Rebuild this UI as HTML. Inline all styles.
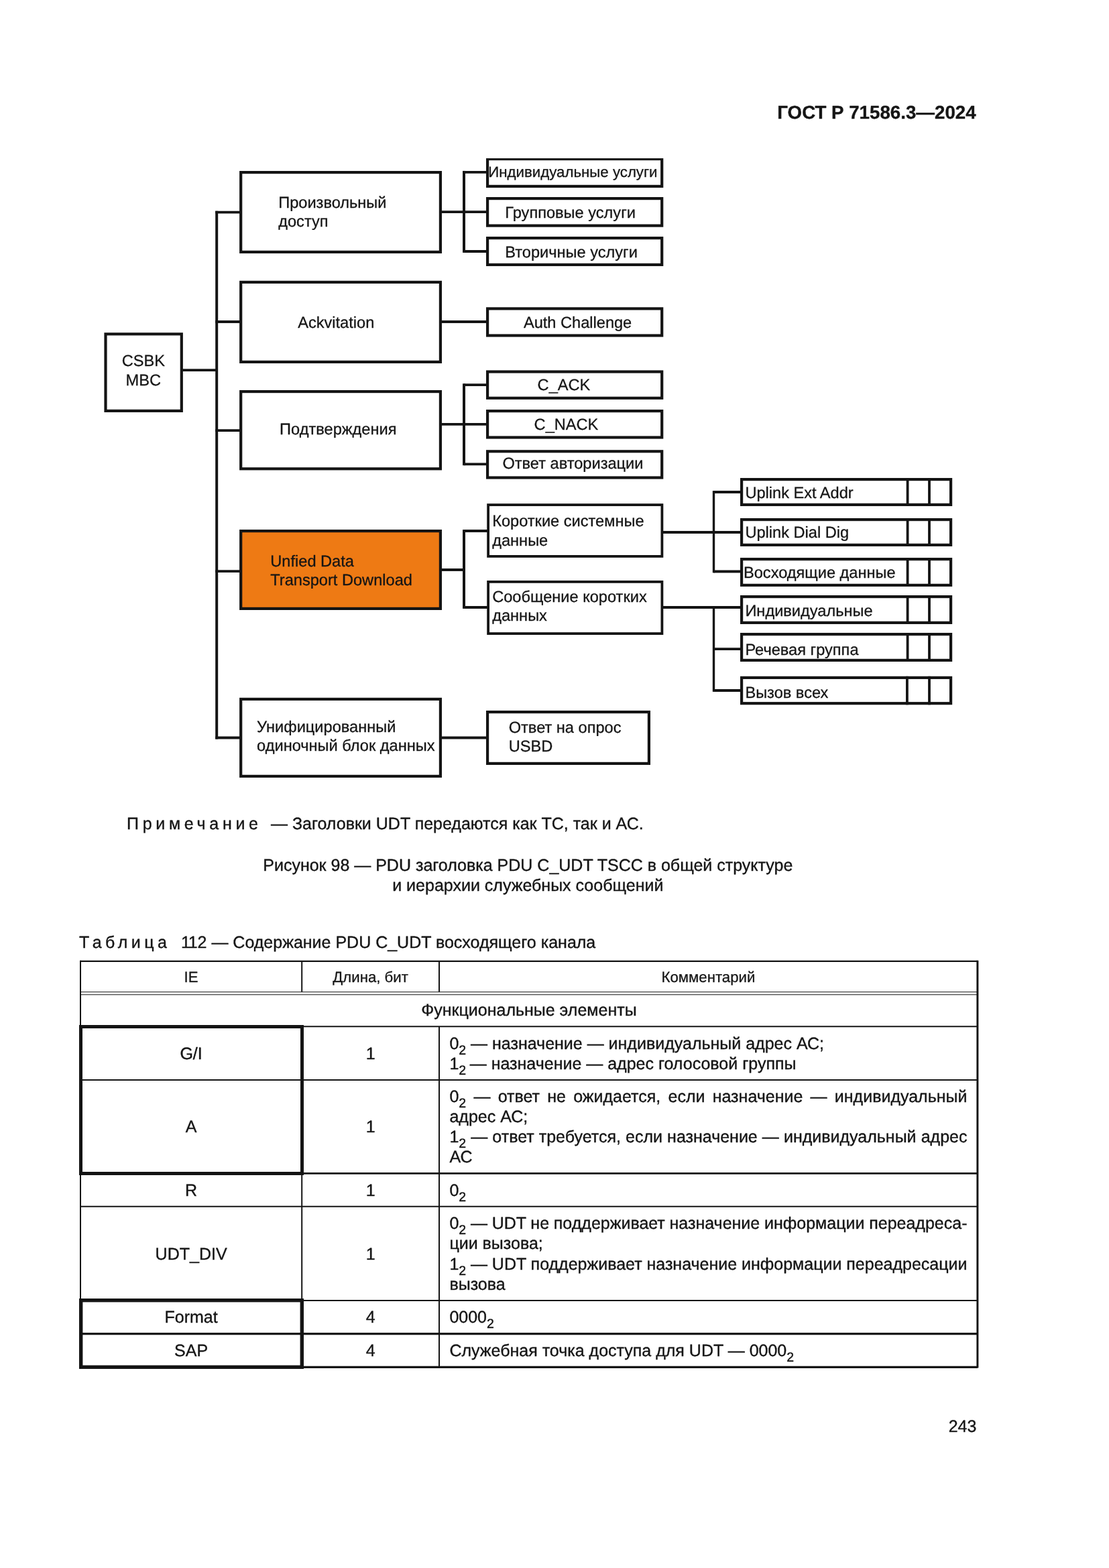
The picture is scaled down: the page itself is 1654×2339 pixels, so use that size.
<!DOCTYPE html>
<html lang="ru">
<head>
<meta charset="utf-8">
<title>ГОСТ Р 71586.3—2024</title>
<style>
html,body{margin:0;padding:0;background:#fff;}
body{width:1654px;height:2339px;overflow:hidden;}
svg{display:block;will-change:transform;}
text{font-family:"Liberation Sans",sans-serif;fill:#151515;stroke:#151515;stroke-width:0.38px;stroke-linejoin:round;white-space:pre;}
text.d{stroke-width:0.3px;}
</style>
</head>
<body>
<svg width="1654" height="2339" viewBox="0 0 1654 2339" shape-rendering="geometricPrecision" text-rendering="geometricPrecision" role="img" aria-label="ГОСТ Р 71586.3—2024, страница 243">
<rect x="0" y="0" width="1654" height="2339" fill="#ffffff"/>
<text x="1455.60" y="177.00" font-size="27.7" text-anchor="end" font-weight="bold">ГОСТ Р 71586.3—2024</text>
<g id="diagram">
<line x1="323.20" y1="314.70" x2="323.20" y2="1102.40" stroke="#141414" stroke-width="4.0"/>
<line x1="272.00" y1="552.20" x2="323.20" y2="552.20" stroke="#141414" stroke-width="3.8"/>
<line x1="321.20" y1="316.60" x2="358.00" y2="316.60" stroke="#141414" stroke-width="3.8"/>
<line x1="321.20" y1="480.00" x2="358.00" y2="480.00" stroke="#141414" stroke-width="3.8"/>
<line x1="321.20" y1="642.20" x2="358.00" y2="642.20" stroke="#141414" stroke-width="3.8"/>
<line x1="321.20" y1="852.10" x2="358.00" y2="852.10" stroke="#141414" stroke-width="3.8"/>
<line x1="321.20" y1="1100.50" x2="358.00" y2="1100.50" stroke="#141414" stroke-width="3.8"/>
<rect x="157.50" y="498.30" width="113.30" height="114.60" fill="none" stroke="#141414" stroke-width="4.2"/>
<rect x="359.20" y="257.10" width="297.70" height="118.80" fill="none" stroke="#141414" stroke-width="4.2"/>
<rect x="359.20" y="420.90" width="297.70" height="119.00" fill="none" stroke="#141414" stroke-width="4.2"/>
<rect x="359.20" y="584.10" width="297.70" height="115.20" fill="none" stroke="#141414" stroke-width="4.2"/>
<rect x="359.20" y="792.10" width="297.70" height="115.80" fill="#ee7a14" stroke="#141414" stroke-width="4.2"/>
<rect x="359.20" y="1042.90" width="297.70" height="115.00" fill="none" stroke="#141414" stroke-width="4.2"/>
<line x1="692.00" y1="254.90" x2="692.00" y2="376.90" stroke="#141414" stroke-width="4.0"/>
<line x1="658.00" y1="316.20" x2="726.00" y2="316.20" stroke="#141414" stroke-width="3.8"/>
<line x1="692.00" y1="256.80" x2="726.00" y2="256.80" stroke="#141414" stroke-width="3.8"/>
<line x1="692.00" y1="375.00" x2="726.00" y2="375.00" stroke="#141414" stroke-width="3.8"/>
<line x1="658.00" y1="480.00" x2="726.00" y2="480.00" stroke="#141414" stroke-width="3.8"/>
<line x1="692.00" y1="572.20" x2="692.00" y2="694.20" stroke="#141414" stroke-width="4.0"/>
<line x1="658.00" y1="632.90" x2="726.00" y2="632.90" stroke="#141414" stroke-width="3.8"/>
<line x1="692.00" y1="574.10" x2="726.00" y2="574.10" stroke="#141414" stroke-width="3.8"/>
<line x1="692.00" y1="692.30" x2="726.00" y2="692.30" stroke="#141414" stroke-width="3.8"/>
<line x1="692.00" y1="790.10" x2="692.00" y2="907.90" stroke="#141414" stroke-width="4.0"/>
<line x1="658.00" y1="850.00" x2="692.00" y2="850.00" stroke="#141414" stroke-width="3.8"/>
<line x1="692.00" y1="792.00" x2="727.00" y2="792.00" stroke="#141414" stroke-width="3.8"/>
<line x1="692.00" y1="906.00" x2="727.00" y2="906.00" stroke="#141414" stroke-width="3.8"/>
<line x1="658.00" y1="1100.50" x2="726.00" y2="1100.50" stroke="#141414" stroke-width="3.8"/>
<rect x="727.10" y="237.10" width="260.10" height="40.80" fill="none" stroke="#141414" stroke-width="4.2"/>
<rect x="727.10" y="296.10" width="260.10" height="40.50" fill="none" stroke="#141414" stroke-width="4.2"/>
<rect x="727.10" y="355.10" width="260.10" height="39.80" fill="none" stroke="#141414" stroke-width="4.2"/>
<rect x="727.10" y="460.40" width="260.10" height="40.10" fill="none" stroke="#141414" stroke-width="4.2"/>
<rect x="727.10" y="554.50" width="260.10" height="39.30" fill="none" stroke="#141414" stroke-width="4.2"/>
<rect x="727.10" y="613.10" width="260.10" height="39.40" fill="none" stroke="#141414" stroke-width="4.2"/>
<rect x="727.10" y="673.30" width="260.10" height="39.20" fill="none" stroke="#141414" stroke-width="4.2"/>
<rect x="720" y="230" width="275" height="6.1" fill="#ffffff"/>
<rect x="728.10" y="753.10" width="259.30" height="76.80" fill="none" stroke="#141414" stroke-width="3.8"/>
<rect x="728.10" y="867.90" width="259.30" height="77.20" fill="none" stroke="#141414" stroke-width="3.8"/>
<rect x="727.10" y="1062.10" width="240.80" height="76.80" fill="none" stroke="#141414" stroke-width="4.2"/>
<line x1="1064.50" y1="732.10" x2="1064.50" y2="854.40" stroke="#141414" stroke-width="3.4"/>
<line x1="988.00" y1="794.00" x2="1105.00" y2="794.00" stroke="#141414" stroke-width="3.8"/>
<line x1="1064.50" y1="734.00" x2="1105.00" y2="734.00" stroke="#141414" stroke-width="3.8"/>
<line x1="1064.50" y1="852.50" x2="1105.00" y2="852.50" stroke="#141414" stroke-width="3.8"/>
<line x1="1064.50" y1="906.00" x2="1064.50" y2="1031.90" stroke="#141414" stroke-width="3.4"/>
<line x1="988.00" y1="906.00" x2="1105.00" y2="906.00" stroke="#141414" stroke-width="3.8"/>
<line x1="1064.50" y1="968.20" x2="1105.00" y2="968.20" stroke="#141414" stroke-width="3.8"/>
<line x1="1064.50" y1="1030.00" x2="1105.00" y2="1030.00" stroke="#141414" stroke-width="3.8"/>
<rect x="1106.10" y="715.10" width="312.00" height="37.80" fill="none" stroke="#141414" stroke-width="4.2"/>
<line x1="1353.60" y1="713.00" x2="1353.60" y2="755.00" stroke="#141414" stroke-width="3.8"/>
<line x1="1386.00" y1="713.00" x2="1386.00" y2="755.00" stroke="#141414" stroke-width="3.8"/>
<rect x="1106.10" y="775.10" width="312.00" height="37.80" fill="none" stroke="#141414" stroke-width="4.2"/>
<line x1="1353.60" y1="773.00" x2="1353.60" y2="815.00" stroke="#141414" stroke-width="3.8"/>
<line x1="1386.00" y1="773.00" x2="1386.00" y2="815.00" stroke="#141414" stroke-width="3.8"/>
<rect x="1106.10" y="834.10" width="312.00" height="38.80" fill="none" stroke="#141414" stroke-width="4.2"/>
<line x1="1353.60" y1="832.00" x2="1353.60" y2="875.00" stroke="#141414" stroke-width="3.8"/>
<line x1="1386.00" y1="832.00" x2="1386.00" y2="875.00" stroke="#141414" stroke-width="3.8"/>
<rect x="1106.10" y="890.10" width="312.00" height="38.80" fill="none" stroke="#141414" stroke-width="4.2"/>
<line x1="1353.60" y1="888.00" x2="1353.60" y2="931.00" stroke="#141414" stroke-width="3.8"/>
<line x1="1386.00" y1="888.00" x2="1386.00" y2="931.00" stroke="#141414" stroke-width="3.8"/>
<rect x="1106.10" y="946.10" width="312.00" height="38.80" fill="none" stroke="#141414" stroke-width="4.2"/>
<line x1="1353.60" y1="944.00" x2="1353.60" y2="987.00" stroke="#141414" stroke-width="3.8"/>
<line x1="1386.00" y1="944.00" x2="1386.00" y2="987.00" stroke="#141414" stroke-width="3.8"/>
<rect x="1106.10" y="1010.90" width="312.00" height="38.30" fill="none" stroke="#141414" stroke-width="4.2"/>
<line x1="1352.90" y1="1008.80" x2="1352.90" y2="1051.30" stroke="#141414" stroke-width="3.8"/>
<line x1="1386.00" y1="1008.80" x2="1386.00" y2="1051.30" stroke="#141414" stroke-width="3.8"/>
<text class="d" transform="translate(181.70 546.00) scale(1.0 1)" font-size="23.6">CSBK</text>
<text class="d" transform="translate(187.60 575.00) scale(1.0 1)" font-size="23.6">MBC</text>
<text class="d" transform="translate(415.20 310.00) scale(1.0 1)" font-size="23.6">Произвольный</text>
<text class="d" transform="translate(415.20 338.00) scale(1.0 1)" font-size="23.6">доступ</text>
<text class="d" transform="translate(444.20 489.00) scale(1.0 1)" font-size="23.6">Ackvitation</text>
<text class="d" transform="translate(417.10 648.00) scale(1.0 1)" font-size="23.6">Подтверждения</text>
<text class="d" transform="translate(403.30 845.00) scale(1.0 1)" font-size="23.6">Unfied Data</text>
<text class="d" transform="translate(403.30 873.00) scale(1.0 1)" font-size="23.6">Transport Download</text>
<text class="d" transform="translate(383.10 1092.00) scale(1.0 1)" font-size="23.6">Унифицированный</text>
<text class="d" transform="translate(383.10 1120.00) scale(1.0 1)" font-size="23.6">одиночный блок данных</text>
<text class="d" x="728.30" y="264.00" font-size="22.25">Индивидуальные услуги</text>
<text class="d" transform="translate(753.30 325.00) scale(1.0 1)" font-size="23.6">Групповые услуги</text>
<text class="d" transform="translate(753.30 384.00) scale(1.0 1)" font-size="23.6">Вторичные услуги</text>
<text class="d" transform="translate(780.90 489.00) scale(1.0 1)" font-size="23.6">Auth Challenge</text>
<text class="d" transform="translate(801.60 582.00) scale(1.0 1)" font-size="23.6">C_ACK</text>
<text class="d" transform="translate(796.60 641.00) scale(1.0 1)" font-size="23.6">C_NACK</text>
<text class="d" transform="translate(749.40 699.00) scale(1.0 1)" font-size="23.6">Ответ авторизации</text>
<text class="d" transform="translate(734.20 785.00) scale(1.0 1)" font-size="23.6">Короткие системные</text>
<text class="d" transform="translate(734.20 814.00) scale(1.0 1)" font-size="23.6">данные</text>
<text class="d" transform="translate(734.20 898.00) scale(1.0 1)" font-size="23.6">Сообщение коротких</text>
<text class="d" transform="translate(734.20 926.00) scale(1.0 1)" font-size="23.6">данных</text>
<text class="d" transform="translate(758.70 1093.00) scale(1.0 1)" font-size="23.6">Ответ на опрос</text>
<text class="d" transform="translate(758.70 1121.00) scale(1.0 1)" font-size="23.6">USBD</text>
<text class="d" transform="translate(1111.40 743.00) scale(1.0 1)" font-size="23.6">Uplink Ext Addr</text>
<text class="d" transform="translate(1111.40 802.00) scale(1.0 1)" font-size="23.6">Uplink Dial Dig</text>
<text class="d" transform="translate(1109.00 862.00) scale(1.0 1)" font-size="23.6">Восходящие данные</text>
<text class="d" transform="translate(1111.40 919.00) scale(1.0 1)" font-size="23.6">Индивидуальные</text>
<text class="d" transform="translate(1111.40 977.00) scale(1.0 1)" font-size="23.6">Речевая группа</text>
<text class="d" transform="translate(1111.40 1041.00) scale(1.0 1)" font-size="23.6">Вызов всех</text>
</g>
<g id="captions">
<text x="189.00" y="1237.00" font-size="25" style="letter-spacing:5.7px">Примечание</text>
<text x="404.00" y="1237.00" font-size="25">— Заголовки UDT передаются как ТС, так и АС.</text>
<text x="787.30" y="1299.00" font-size="25" text-anchor="middle">Рисунок 98 — PDU заголовка PDU C_UDT TSCC в общей структуре</text>
<text x="787.30" y="1329.00" font-size="25" text-anchor="middle">и иерархии служебных сообщений</text>
<text x="118.00" y="1414.00" font-size="25" style="letter-spacing:5.5px">Таблица</text>
<text x="270.00" y="1414.00" font-size="25">1<tspan dx="-1.4">12 — Содержание PDU C_UDT восходящего канала</tspan></text>
</g>
<g id="table">
<line x1="120.00" y1="1432.70" x2="120.00" y2="2040.30" stroke="#141414" stroke-width="2.0"/>
<line x1="1457.90" y1="1432.70" x2="1457.90" y2="2040.50" stroke="#141414" stroke-width="3.0"/>
<line x1="120.00" y1="1433.90" x2="1457.90" y2="1433.90" stroke="#141414" stroke-width="2.4"/>
<line x1="120.00" y1="2039.30" x2="1457.90" y2="2039.30" stroke="#141414" stroke-width="3.3"/>
<line x1="120.00" y1="1479.70" x2="1457.90" y2="1479.70" stroke="#141414" stroke-width="1.1"/>
<line x1="120.00" y1="1483.70" x2="1457.90" y2="1483.70" stroke="#141414" stroke-width="1.1"/>
<line x1="120.00" y1="1531.30" x2="1457.90" y2="1531.30" stroke="#141414" stroke-width="2.0"/>
<line x1="120.00" y1="1611.00" x2="1457.90" y2="1611.00" stroke="#141414" stroke-width="2.0"/>
<line x1="120.00" y1="1750.30" x2="1457.90" y2="1750.30" stroke="#141414" stroke-width="2.8"/>
<line x1="120.00" y1="1799.80" x2="1457.90" y2="1799.80" stroke="#141414" stroke-width="2.0"/>
<line x1="120.00" y1="1939.90" x2="1457.90" y2="1939.90" stroke="#141414" stroke-width="2.0"/>
<line x1="120.00" y1="1989.60" x2="1457.90" y2="1989.60" stroke="#141414" stroke-width="3.1"/>
<line x1="450.20" y1="1433.90" x2="450.20" y2="1479.70" stroke="#141414" stroke-width="2.0"/>
<line x1="450.20" y1="1531.30" x2="450.20" y2="2039.30" stroke="#141414" stroke-width="2.0"/>
<line x1="655.00" y1="1433.90" x2="655.00" y2="1479.70" stroke="#141414" stroke-width="2.0"/>
<line x1="655.00" y1="1531.30" x2="655.00" y2="2039.30" stroke="#141414" stroke-width="2.0"/>
<rect x="120.50" y="1531.50" width="330.00" height="219.00" fill="none" stroke="#141414" stroke-width="5.0"/>
<rect x="120.70" y="1939.70" width="329.60" height="99.60" fill="none" stroke="#141414" stroke-width="5.4"/>
<line x1="120.00" y1="1989.50" x2="451.00" y2="1989.50" stroke="#141414" stroke-width="3.0"/>
<text class="d" x="285.10" y="1465.00" font-size="22.2" text-anchor="middle">IE</text>
<text class="d" x="552.60" y="1465.00" font-size="22.2" text-anchor="middle">Длина, бит</text>
<text class="d" x="1056.45" y="1465.00" font-size="22.2" text-anchor="middle">Комментарий</text>
<text x="788.95" y="1515.00" font-size="25" text-anchor="middle">Функциональные элементы</text>
<text x="285.10" y="1580.00" font-size="25" text-anchor="middle">G/I</text>
<text x="552.60" y="1580.00" font-size="25" text-anchor="middle">1</text>
<text x="670.40" y="1565.00" font-size="25">0<tspan dy="8" font-size="19.5">2</tspan><tspan dy="-8"> — назначение — индивидуальный адрес АС;</tspan></text>
<text x="670.40" y="1595.00" font-size="25">1<tspan dy="8" font-size="19.5">2</tspan><tspan dy="-8" dx="-1.4"> — назначение — адрес голосовой группы</tspan></text>
<text x="285.10" y="1689.00" font-size="25" text-anchor="middle">A</text>
<text x="552.60" y="1689.00" font-size="25" text-anchor="middle">1</text>
<text x="670.40" y="1644.00" font-size="25" style="word-spacing:4.305px">0<tspan dy="8" font-size="19.5">2</tspan><tspan dy="-8"> — ответ не ожидается, если назначение — индивидуальный</tspan></text>
<text x="670.40" y="1674.00" font-size="25">адрес АС;</text>
<text x="670.40" y="1704.00" font-size="25" style="word-spacing:0.149px">1<tspan dy="8" font-size="19.5">2</tspan><tspan dy="-8"> — ответ требуется, если назначение — индивидуальный адрес</tspan></text>
<text x="670.40" y="1734.00" font-size="25">АС</text>
<text x="285.10" y="1784.00" font-size="25" text-anchor="middle">R</text>
<text x="552.60" y="1784.00" font-size="25" text-anchor="middle">1</text>
<text x="670.40" y="1784.00" font-size="25">0<tspan dy="8" font-size="19.5">2</tspan></text>
<text x="285.10" y="1879.00" font-size="25" text-anchor="middle">UDT_DIV</text>
<text x="552.60" y="1879.00" font-size="25" text-anchor="middle">1</text>
<text x="670.40" y="1833.00" font-size="25" style="word-spacing:-0.191px">0<tspan dy="8" font-size="19.5">2</tspan><tspan dy="-8"> — UDT не поддерживает назначение информации переадреса-</tspan></text>
<text x="670.40" y="1863.00" font-size="25">ции вызова;</text>
<text x="670.40" y="1894.00" font-size="25" style="word-spacing:-0.101px">1<tspan dy="8" font-size="19.5">2</tspan><tspan dy="-8"> — UDT поддерживает назначение информации переадресации</tspan></text>
<text x="670.40" y="1924.00" font-size="25">вызова</text>
<text x="285.10" y="1973.00" font-size="25" text-anchor="middle">Format</text>
<text x="552.60" y="1973.00" font-size="25" text-anchor="middle">4</text>
<text x="670.40" y="1973.00" font-size="25">0000<tspan dy="8" font-size="19.5">2</tspan></text>
<text x="285.10" y="2023.00" font-size="25" text-anchor="middle">SAP</text>
<text x="552.60" y="2023.00" font-size="25" text-anchor="middle">4</text>
<text x="670.40" y="2023.00" font-size="25">Служебная точка доступа для UDT — 0000<tspan dy="8" font-size="19.5">2</tspan></text>
</g>
<text x="1456.40" y="2136.00" font-size="25" text-anchor="end">243</text>
</svg>
</body>
</html>
